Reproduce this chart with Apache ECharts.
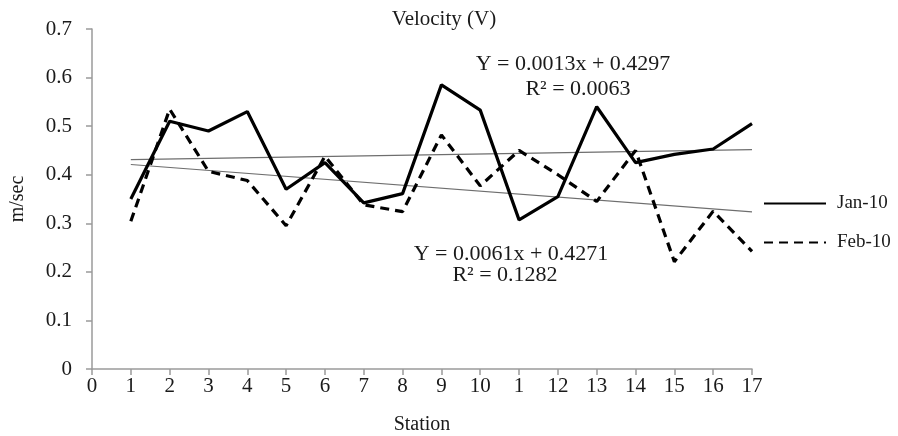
<!DOCTYPE html>
<html>
<head>
<meta charset="utf-8">
<script src="https://cdn.jsdelivr.net/npm/echarts@6/dist/echarts.min.js"></script>
<style>
  html, body { margin: 0; padding: 0; background: #fff; }
  #chart { width: 898px; height: 436px; }
</style>
</head>
<body>
<div id="chart"></div>
<script>
// Velocity (V) per station, Jan-10 vs Feb-10, with linear trendlines.
// Note: the original axis shows "1" where 11 should be — kept as-is.

const stations = [1, 2, 3, 4, 5, 6, 7, 8, 9, 10, 11, 12, 13, 14, 15, 16, 17];
const tickLabels = ['0', '1', '2', '3', '4', '5', '6', '7', '8', '9', '10', '1', '12', '13', '14', '15', '16', '17'];

const jan10 = [0.35, 0.51, 0.49, 0.53, 0.37, 0.425, 0.342, 0.361, 0.585, 0.533, 0.307, 0.355, 0.54, 0.425, 0.442, 0.453, 0.505];
const feb10 = [0.304, 0.535, 0.407, 0.388, 0.295, 0.438, 0.338, 0.324, 0.482, 0.377, 0.45, 0.40, 0.345, 0.45, 0.221, 0.325, 0.242];

// trendline coefficients as printed (Feb slope is negative on the plot)
const janTrend = { slope: 0.0013, intercept: 0.4297 };
const febTrend = { slope: -0.0061, intercept: 0.4271 };

const FONT = '"Liberation Serif", "DejaVu Serif", serif';
const TEXT = '#1a1a1a';
const AXIS = '#9a9a9a';

const pairs = (xs, ys) => xs.map((x, i) => [x, ys[i]]);
const trend = (t) => [stations[0], stations[stations.length - 1]]
  .map(x => [x, t.intercept + t.slope * x]);

// free text label, centred on cx
const label = (text, cx, top, size) => ({
  type: 'text', x: cx, y: top,
  style: { text, font: `${size}px ${FONT}`, fill: TEXT, align: 'center', verticalAlign: 'top' },
});

const chart = echarts.init(document.getElementById('chart'));

chart.setOption({
  animation: false,
  backgroundColor: '#fff',
  grid: { left: 92, right: 146, top: 29, bottom: 67, outerBoundsMode: 'none' },
  legend: {
    orient: 'vertical',
    left: 763, top: 194, padding: 0,
    itemWidth: 62, itemHeight: 20, itemGap: 20,
    itemStyle: { opacity: 0 },
    data: ['Jan-10', 'Feb-10'],
    textStyle: { fontFamily: FONT, fontSize: 19, color: TEXT, padding: [0, 0, 0, 6] },
  },
  xAxis: {
    type: 'value', min: 0, max: 17, interval: 1,
    name: 'Station', nameLocation: 'middle', nameGap: 46,
    nameTextStyle: { fontFamily: FONT, fontSize: 20, color: TEXT },
    axisLine: { lineStyle: { color: AXIS, width: 1.5 } },
    axisTick: { length: 6, lineStyle: { color: AXIS, width: 1.5 } },
    axisLabel: {
      fontFamily: FONT, fontSize: 21, color: TEXT, margin: 7,
      formatter: (v) => tickLabels[v] ?? '',
    },
    splitLine: { show: false },
  },
  yAxis: {
    type: 'value', min: 0, max: 0.7, interval: 0.1,
    name: 'm/sec', nameLocation: 'middle', nameGap: 64,
    nameTextStyle: { fontFamily: FONT, fontSize: 20, color: TEXT },
    axisLine: { show: true, lineStyle: { color: AXIS, width: 1.5 } },
    axisTick: { show: true, length: 6, lineStyle: { color: AXIS, width: 1.5 } },
    axisLabel: {
      fontFamily: FONT, fontSize: 21, color: TEXT, margin: 20,
      formatter: (v) => (Math.round(v * 10) / 10).toString(),
    },
    splitLine: { show: false },
  },
  series: [
    {
      name: 'Jan-10', type: 'line', showSymbol: false, symbol: 'none',
      lineStyle: { color: '#000', width: 3.2, type: 'solid' },
      itemStyle: { color: '#000' },
      data: pairs(stations, jan10), z: 4,
    },
    {
      name: 'Feb-10', type: 'line', showSymbol: false, symbol: 'none',
      lineStyle: { color: '#000', width: 3.2, type: [9, 6] },
      itemStyle: { color: '#000' },
      data: pairs(stations, feb10), z: 3,
    },
    {
      name: 'Jan trend', type: 'line', showSymbol: false, symbol: 'none', silent: true,
      lineStyle: { color: '#6e6e6e', width: 1.2 },
      data: trend(janTrend), z: 2,
    },
    {
      name: 'Feb trend', type: 'line', showSymbol: false, symbol: 'none', silent: true,
      lineStyle: { color: '#6e6e6e', width: 1.2 },
      data: trend(febTrend), z: 2,
    },
  ],
  graphic: [
    label('Velocity (V)', 444, 9, 21),
    label('Y = 0.0013x + 0.4297', 573, 53, 22),
    label('R² = 0.0063', 578, 78, 22),
    label('Y = 0.0061x + 0.4271', 511, 243, 22),
    label('R² = 0.1282', 505, 264, 22),
  ],
});
</script>
</body>
</html>
